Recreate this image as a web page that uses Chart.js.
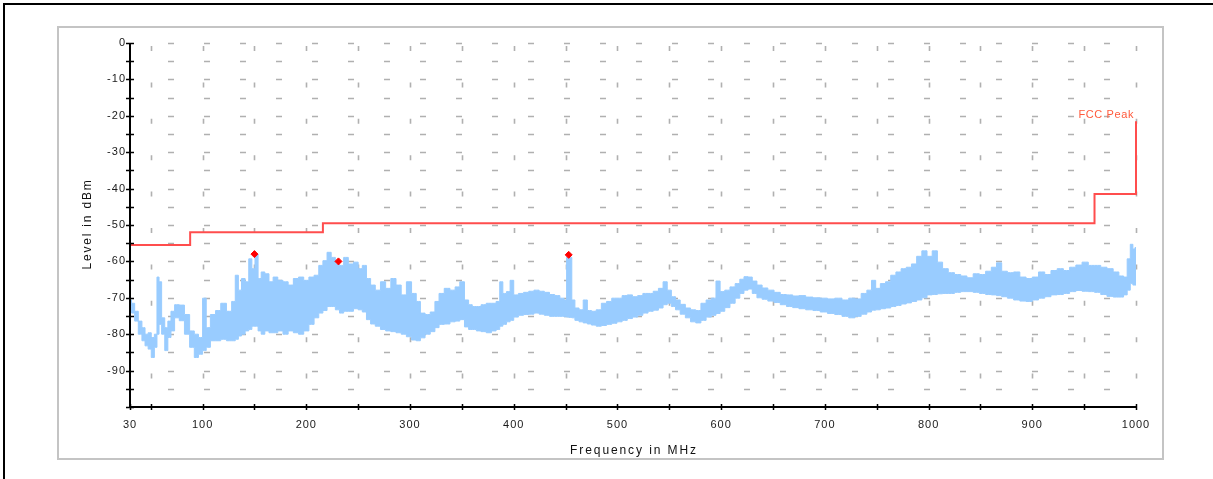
<!DOCTYPE html>
<html><head><meta charset="utf-8">
<script src="https://cdn.jsdelivr.net/npm/chart.js@4.4.0/dist/chart.umd.min.js"></script>
<style>
html,body{margin:0;padding:0;background:#fff;}
#wrap{position:relative;width:1213px;height:479px;overflow:hidden;background:#fff;}
#outer{position:absolute;left:3px;top:3px;width:1230px;height:500px;border-left:2px solid #000;border-top:2px solid #000;}
#inner{position:absolute;left:57px;top:26px;width:1103px;height:430px;border:2px solid #c4c4c4;}
canvas{position:absolute;left:0;top:0;}
</style></head>
<body><div id="wrap"><div id="outer"></div><div id="inner"></div><canvas id="c" width="1213" height="479"></canvas></div>
<script>
// ---- data ----
const traceFreq = [
30,33,36,40,43,46,49,52,55,57, 59,62,65,68,71,75,80,85,90,94,
98,102,105,110,115,120,126,130,133,136, 139,143,146,149,152,155,158,162,166,170,
175,180,185,190,195,200,205,210,214,218, 222,226,230,234,238,243,248,252,256,260,
264,269,274,279,284,289,294,299,304,308, 312,317,322,326,330,336,341,346,350,
355,358,362,366,371,376,381,385,388,391, 395,398,402,407,412,417,422,427,432,437,
442,447,450,452,455,457,461,465,469,473, 477,482,487,492,497,502,507,512,517,522,
527,532,537,542,546,550,554,558,563,568, 573,578,583,588,593,597,601,606,611,616,
620,624,628,632,637,642,648,654,660,666, 672,
678,685,692,699,706,713,720,726,732,738, 743,747,751,756,761,766,771,776,781,786,
791,796,801,806,811,816,822,828,834,840, 846,852,858,863,868,873,879,885,891,897,
903,909,915,921,927,933,939,945,951,957, 963,969,975,981,986,990,993,996,998,1000];
const traceUpper = [
-70.6,-71.5,-73.7,-76.4,-78.2,-80,-79.6,-80.9,-80,-64.3,
-65.6,-75.5,-78.2,-76.4,-73.7,-71.9,-72,-74.6,-79.1,-80,
-80.9,-70.1,-78.2,-74.6,-73.5,-71.5,-73.7,-71,-63.8,-67.9,
-64.7,-65.6,-59.3,-62,-58,-64.7,-62.9,-63.4,-65.6,-64.3,
-65.2,-65.6,-66.5,-64.7,-64.3,-65.2,-64.3,-63.8,-61.1,-59.8,
-57.5,-58.9,-60.7,-61.1,-58.9,-60.7,-60.2,-62,-61.1,-64.7,
-66.5,-67.9,-65.6,-67.4,-64.7,-66.5,-69.2,-65.6,-68.8,-71,
-74.2,-74.6,-73.9,-71,-68.8,-67.4,-67.9,-67,-65.6,
-70.6,-71.9,-72.4,-72.4,-71.9,-71.5,-71.5,-71,-65.6,-68.8,
-68.3,-65.2,-69.2,-68.8,-68.5,-68.2,-67.9,-68.2,-68.5,-69.1,
-69.4,-70.1,-70.6,-58.9,-58.9,-70.6,-72.8,-73.3,-70.6,-73.5,
-73.7,-73.3,-71.5,-71,-70.1,-70.1,-69.4,-69.2,-69.7,-69.4,
-68.8,-68.8,-68.2,-67.4,-65.6,-67.9,-69.7,-70.6,-71.8,-72.8,
-73.3,-73.5,-71.5,-70.6,-70.1,-65.4,-68.3,-67.9,-67,-66.1,
-64.9,-64.2,-64.3,-65.4,-66.5,-67.3,-67.9,-68.5,-69.1,-69.2,
-69.5,
-69.4,-69.8,-70,-70.1,-70.3,-70.1,-70.6,-70.1,-70.3,-68.8,
-67.9,-65.2,-67.4,-66.1,-65.6,-63.8,-62.9,-62,-61.6,-60.7,
-58.6,-57.1,-58.6,-57.1,-60.2,-62,-63.1,-63.6,-64,-64.5,
-63.4,-63.6,-62.7,-61.6,-60.4,-62.7,-63.1,-62.9,-64.3,-64.7,
-64.3,-62.9,-63.6,-62.5,-62,-62.5,-61.6,-61,-60.2,-61.1,
-61.1,-61.6,-62,-62.9,-64,-64.3,-59.3,-55.3,-56.6,-56.2];
const traceLower = [
-72.4,-74.2,-76.4,-80,-81.8,-83.2,-84.1,-86.4,-83.6,-80,
-77.3,-80,-84.5,-80.9,-79.1,-75.5,-76.3,-80,-83.6,-86.4,
-85.5,-84.5,-83.6,-81.8,-81.8,-81.4,-81.8,-81.8,-81.4,-80.5,
-80,-79.1,-78.7,-77.8,-77.8,-79.1,-80,-79.1,-79.6,-79.6,
-79.1,-80,-79.1,-79.6,-80,-79.1,-77.3,-75.5,-74.2,-73.5,
-72.4,-72.4,-73.3,-74.2,-73.7,-73.7,-73,-73.3,-73.9,-76,
-77.2,-77.8,-78.7,-79.1,-79.3,-79.6,-80,-80.7,-81.6,-81.8,
-81,-80,-79.3,-78.2,-77.3,-77.2,-76.6,-76.4,-76,
-78,-78.7,-78.7,-79.1,-79.3,-79.6,-79.1,-78.7,-77.8,-77.3,
-76.6,-76.2,-75.3,-74.8,-74.6,-74.5,-74.2,-74.5,-74.8,-75.1,
-75.1,-75.1,-75.2,-75.3,-75.4,-75.5,-76.2,-76.6,-76.9,-77.2,
-77.5,-77.8,-77.6,-77.3,-77,-76.6,-76.2,-75.7,-75.3,-74.8,
-74.2,-73.7,-73.4,-72.8,-71.9,-71.5,-72.4,-73.3,-74.5,-75.5,
-76.6,-76.9,-76.2,-75.3,-74.8,-74.3,-73.7,-72.7,-71.5,-70.1,
-68.8,-67.9,-67.6,-68.8,-70,-70.4,-70.9,-71.3,-71.9,-72.4,
-72.7,
-73,-73.3,-73.5,-73.9,-74.3,-74.6,-75.1,-75.5,-75.1,-74.5,
-73.9,-73.4,-73.3,-73,-72.8,-72.4,-72.1,-71.7,-71.4,-71,
-70.6,-70,-69.2,-69.1,-68.9,-68.8,-68.8,-68.5,-68.3,-68.3,
-68.5,-68.8,-69.1,-69.2,-69.4,-69.7,-70.1,-70.6,-70.9,-71,
-70.6,-70.1,-69.7,-69.2,-69.1,-68.8,-68.3,-68,-68.2,-68.3,
-68.5,-69.1,-69.6,-69.8,-69.8,-69.2,-67.9,-66.1,-66.5,-66.5];
const limitFreq  = [30, 88, 216, 960, 1000];
const limitLevel = [-55.5, -52.0, -49.5, -41.5, -21.5];
const limitName = 'FCC Peak';
const markerFreq  = [150, 231, 453];
const markerLevel = [-58.0, -60.0, -58.2];
const xTickValues = [30,50,100,150,200,250,300,350,400,450,500,550,600,650,700,750,800,850,900,950,1000];
const xTickLabels = ['30','','100','','200','','300','','400','','500','','600','','700','','800','','900','','1000'];
const yTickValues = [-100,-95,-90,-85,-80,-75,-70,-65,-60,-55,-50,-45,-40,-35,-30,-25,-20,-15,-10,-5,0];
const yTickLabels = ['','','-90','','-80','','-70','','-60','','-50','','-40','','-30','','-20','','-10','','0'];
const xTitle = 'Frequency in MHz';
const yTitle = 'Level in dBm';

// ---- chart ----
const FONT = 'Liberation Sans, Arial, sans-serif';
const pts = (xs, ys) => xs.map((v, i) => ({x: v, y: ys[i]}));

const decor = {
  id: 'decor',
  beforeDraw(chart) {
    chart.ctx.letterSpacing = '1px';
  },
  beforeDatasetsDraw(chart) {
    const {ctx, chartArea: a, scales: {x, y}} = chart;
    ctx.save();
    ctx.strokeStyle = '#b0b0b0';
    ctx.lineWidth = 1.6;
    ctx.beginPath();
    yTickValues.forEach(v => {
      if (v <= -100) return;
      const py = Math.round(y.getPixelForValue(v)) + 0.5;
      for (let px = a.left + 38; px + 6 <= a.right; px += 36) { ctx.moveTo(px, py); ctx.lineTo(px + 6, py); }
    });
    xTickValues.forEach(v => {
      if (v <= 30) return;
      const px = Math.round(x.getPixelForValue(v)) + 0.5;
      for (let py = a.top + 3; py + 5 <= a.bottom - 4; py += 36.4) { ctx.moveTo(px, py); ctx.lineTo(px, py + 5); }
    });
    ctx.stroke();
    ctx.restore();
  },
  afterDatasetsDraw(chart) {
    const {ctx, chartArea: a, scales: {x, y}} = chart;
    ctx.save();
    ctx.strokeStyle = '#000';
    ctx.lineWidth = 2;
    ctx.beginPath();
    ctx.moveTo(a.left, a.top); ctx.lineTo(a.left, a.bottom); ctx.lineTo(a.right, a.bottom);
    ctx.stroke();
    ctx.lineWidth = 1.5;
    ctx.beginPath();
    yTickValues.forEach(v => {
      const py = Math.round(y.getPixelForValue(v)) + 0.5;
      ctx.moveTo(a.left - 4, py); ctx.lineTo(a.left + 4, py);
    });
    xTickValues.forEach(v => {
      const px = Math.round(x.getPixelForValue(v)) + 0.5;
      ctx.moveTo(px, a.bottom - 3); ctx.lineTo(px, a.bottom + 3);
    });
    ctx.stroke();
    // limit line name
    const n = limitFreq.length - 1;
    ctx.fillStyle = '#ff5a3c';
    ctx.font = '11px ' + FONT;
    ctx.letterSpacing = '0.6px';
    ctx.textAlign = 'right';
    ctx.textBaseline = 'alphabetic';
    ctx.fillText(limitName, x.getPixelForValue(limitFreq[n]) - 2, y.getPixelForValue(limitLevel[n]) - 3);
    // axis titles
    ctx.fillStyle = '#111';
    ctx.font = '12px ' + FONT;
    ctx.textAlign = 'center';
    ctx.textBaseline = 'middle';
    ctx.letterSpacing = '1.9px';
    ctx.fillText(xTitle, (a.left + a.right) / 2 + 1, 451);
    ctx.translate(88, (a.top + a.bottom) / 2);
    ctx.rotate(-Math.PI / 2);
    ctx.letterSpacing = '1.8px';
    ctx.fillText(yTitle, 1, 0);
    ctx.restore();
  }
};

new Chart(document.getElementById('c'), {
  type: 'line',
  data: {
    datasets: [
      {label: 'markers', data: pts(markerFreq, markerLevel), showLine: false,
       pointStyle: 'rectRot', pointRadius: 3.5, pointBackgroundColor: '#ff0000', pointBorderColor: '#ff0000', pointBorderWidth: 1},
      {label: limitName, data: pts(limitFreq, limitLevel), stepped: true, borderColor: '#ff4d4d',
       borderWidth: 2, pointRadius: 0, fill: false, clip: 6},
      {label: 'max', data: pts(traceFreq, traceUpper), borderColor: '#99ccff', backgroundColor: '#99ccff',
       borderWidth: 1, pointRadius: 0, fill: 3, stepped: 'middle'},
      {label: 'min', data: pts(traceFreq, traceLower), borderColor: '#99ccff', borderWidth: 1,
       pointRadius: 0, fill: false, stepped: 'middle'}
    ]
  },
  options: {
    responsive: false, animation: false, devicePixelRatio: 1,
    layout: {padding: {left: 70, right: 77, top: 43, bottom: 0}},
    plugins: {legend: {display: false}, tooltip: {enabled: false}},
    scales: {
      x: {
        type: 'linear', min: 30, max: 1000,
        afterBuildTicks: s => { s.ticks = xTickValues.map(v => ({value: v})); },
        afterFit: s => { s.height = 72; },
        grid: {display: false, drawTicks: false}, border: {display: false},
        ticks: {autoSkip: false, maxRotation: 0, padding: 11, color: '#1a1a1a',
                font: {family: FONT, size: 11}, callback: (v, i) => xTickLabels[i]},
        title: {display: false}
      },
      y: {
        type: 'linear', min: -100, max: 0,
        afterBuildTicks: s => { s.ticks = yTickValues.map(v => ({value: v})); },
        afterFit: s => { s.width = 60; },
        grid: {display: false, drawTicks: false}, border: {display: false},
        ticks: {autoSkip: false, padding: 4, color: '#1a1a1a',
                font: {family: FONT, size: 11}, callback: (v, i) => yTickLabels[i]},
        title: {display: false}
      }
    }
  },
  plugins: [decor]
});
</script>
</body></html>
